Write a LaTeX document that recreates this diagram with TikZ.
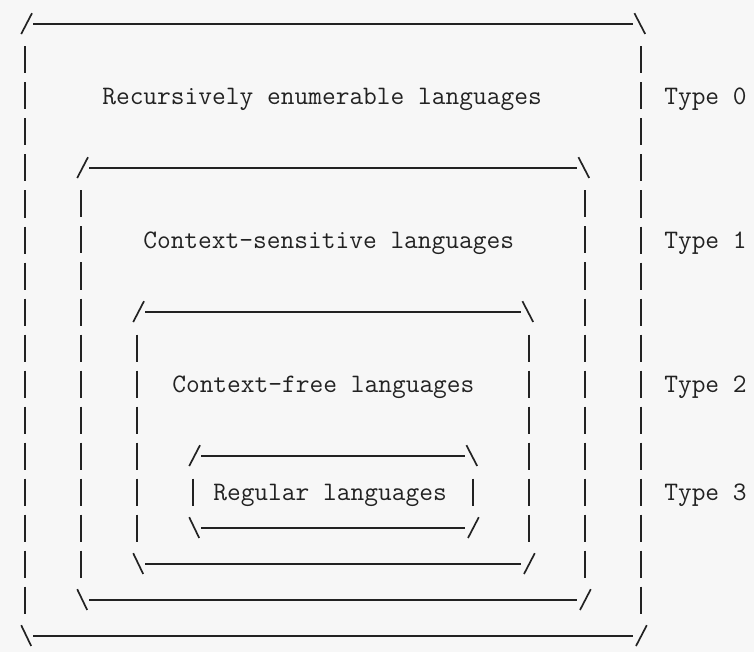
\documentclass[tikz,border=0pt]{standalone}
\usepackage{tikz}
\definecolor{paper}{RGB}{247,247,247}
\definecolor{ink}{RGB}{34,34,34}
\newcommand{\langfont}{\ttfamily\fontsize{18.97}{22}\selectfont}

\begin{document}
\begin{tikzpicture}
		\tikzstyle{edge} = [line width=1.3pt, ink]
		\tikzstyle{bar} = [line width=1.5pt, ink, dash pattern=on 0.675cm off 0.225cm]
		\tikzstyle{corner} = [line width=1.2pt, ink]
		\tikzstyle{Label} = [anchor=base west, inner sep=0pt, text=ink, font=\langfont]
		
		\fill [paper] (0, 0) rectangle (18.85, 16.3);
		
		% Type 0
		\draw [corner] (0.53, 15.45) -- (0.80, 15.97);
		\draw [edge] (0.83, 15.7) -- (15.83, 15.7);
		\draw [corner] (15.86, 15.97) -- (16.13, 15.45);
		\draw [bar] (0.63, 15.1375) -- (0.63, 0.9625);
		\draw [bar] (16.03, 15.1375) -- (16.03, 0.9625);
		\draw [corner] (0.53, 0.67) -- (0.78, 0.15);
		\draw [edge] (0.83, 0.4) -- (15.83, 0.4);
		\draw [corner] (15.90, 0.15) -- (16.17, 0.67);
		\node (re) [Label] at (2.55, 13.68) {Recursively enumerable languages};
		\node (t0) [Label] at (16.6, 13.68) {Type 0};
		
		% Type 1
		\draw [corner] (1.93, 11.85) -- (2.20, 12.37);
		\draw [edge] (2.23, 12.1) -- (14.43, 12.1);
		\draw [corner] (14.46, 12.37) -- (14.73, 11.85);
		\draw [bar] (2.03, 11.5375) -- (2.03, 1.8625);
		\draw [bar] (14.63, 11.5375) -- (14.63, 1.8625);
		\draw [corner] (1.93, 1.57) -- (2.18, 1.05);
		\draw [edge] (2.23, 1.3) -- (14.43, 1.3);
		\draw [corner] (14.50, 1.05) -- (14.77, 1.57);
		\node (cs) [Label] at (3.575, 10.08) {Context-sensitive languages};
		\node (t1) [Label] at (16.6, 10.08) {Type 1};
		
		% Type 2
		\draw [corner] (3.33, 8.25) -- (3.60, 8.77);
		\draw [edge] (3.63, 8.5) -- (13.03, 8.5);
		\draw [corner] (13.06, 8.77) -- (13.33, 8.25);
		\draw [bar] (3.43, 7.9375) -- (3.43, 2.7625);
		\draw [bar] (13.23, 7.9375) -- (13.23, 2.7625);
		\draw [corner] (3.33, 2.47) -- (3.58, 1.95);
		\draw [edge] (3.63, 2.2) -- (13.03, 2.2);
		\draw [corner] (13.10, 1.95) -- (13.37, 2.47);
		\node (cf) [Label] at (4.3, 6.48) {Context-free languages};
		\node (t2) [Label] at (16.6, 6.48) {Type 2};
		
		% Type 3
		\draw [corner] (4.73, 4.65) -- (5.00, 5.17);
		\draw [edge] (5.03, 4.9) -- (11.63, 4.9);
		\draw [corner] (11.66, 5.17) -- (11.93, 4.65);
		\draw [bar] (4.83, 4.3375) -- (4.83, 3.6625);
		\draw [bar] (11.83, 4.3375) -- (11.83, 3.6625);
		\draw [corner] (4.73, 3.37) -- (4.98, 2.85);
		\draw [edge] (5.03, 3.1) -- (11.63, 3.1);
		\draw [corner] (11.70, 2.85) -- (11.97, 3.37);
		\node (reg) [Label] at (5.325, 3.78) {Regular languages};
		\node (t3) [Label] at (16.6, 3.78) {Type 3};
\end{tikzpicture}
\end{document}
